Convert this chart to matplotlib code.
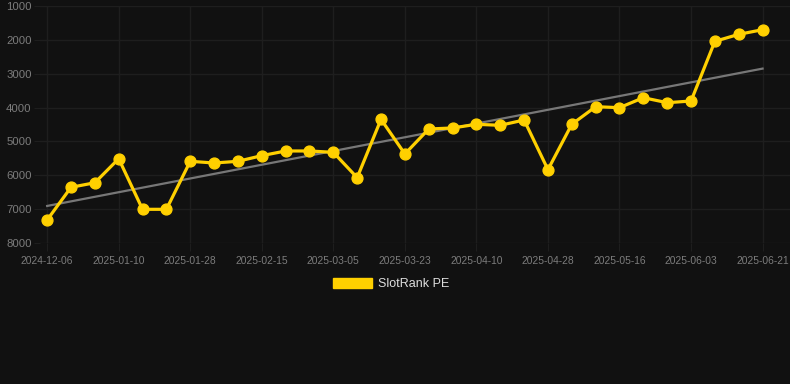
import numpy as np
import matplotlib
matplotlib.use("Agg")
import matplotlib.pyplot as plt
from matplotlib.patches import Patch

# data
dates = [
    "2024-12-06", "2024-12-23", "2025-01-04", "2025-01-10", "2025-01-16", "2025-01-22",
    "2025-01-28", "2025-02-03", "2025-02-09", "2025-02-15", "2025-02-21", "2025-02-27",
    "2025-03-05", "2025-03-11", "2025-03-17", "2025-03-23", "2025-03-29", "2025-04-04",
    "2025-04-10", "2025-04-16", "2025-04-22", "2025-04-28", "2025-05-04", "2025-05-10",
    "2025-05-16", "2025-05-22", "2025-05-28", "2025-06-03", "2025-06-09", "2025-06-15",
    "2025-06-21",
]
rank = [
    7320, 6355, 6220, 5510, 7005, 7005,
    5587, 5637, 5587, 5420, 5282, 5282,
    5322, 6070, 4347, 5370, 4633, 4603,
    4494, 4524, 4367, 5834, 4494, 3974,
    4003, 3708, 3856, 3806, 2044, 1837,
    1700,
]
y_ticks = [1000, 2000, 3000, 4000, 5000, 6000, 7000, 8000]

bg = "#111111"
gold = "#FFD000"
grid_col = "#1e1e1e"
text_col = "#7c7c7c"

x = np.arange(len(rank))
coef = np.polyfit(x, rank, 1)
trend = np.polyval(coef, x)

fig = plt.figure(figsize=(7.9, 3.84), dpi=100, facecolor=bg)
ax = fig.add_axes([40 / 790, 1 - 243 / 384, 750 / 790, 237 / 384])
ax.set_facecolor(bg)

ax.plot(x, trend, color="#777777", linewidth=1.6, zorder=2)
ax.plot(x, rank, color=gold, linewidth=2.3, marker="o", markersize=7.8, zorder=3)

ax.set_ylim(8000, 1000)
ax.set_xlim(-0.3, 31.15)
ax.set_yticks(y_ticks)
ax.set_xticks(x[::3])
ax.set_xticklabels(dates[::3])

for s in ax.spines.values():
    s.set_visible(False)
ax.grid(True, color=grid_col, linewidth=1)
ax.tick_params(axis="y", length=4, color=grid_col, pad=2, labelcolor=text_col, labelsize=8.2)
ax.tick_params(axis="x", length=6, color=grid_col, pad=3, labelcolor=text_col, labelsize=7.4)
for lab in ax.get_xticklabels() + ax.get_yticklabels():
    lab.set_family("Liberation Sans")

handle = Patch(facecolor=gold, edgecolor=gold)
leg = fig.legend([handle], ["SlotRank PE"], loc="center", bbox_to_anchor=(0.495, 1 - 284 / 384),
                 frameon=False, handlelength=3.1, handleheight=0.9, handletextpad=0.5,
                 prop={"family": "Liberation Sans", "size": 9})
for t in leg.get_texts():
    t.set_color("#dddddd")

fig.savefig("out.png", dpi=100, facecolor=bg)
